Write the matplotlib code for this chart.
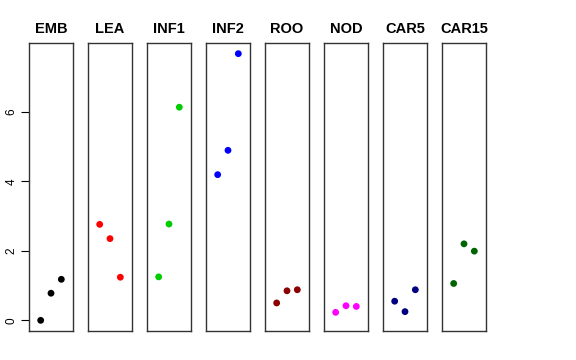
import matplotlib
matplotlib.use("Agg")
import matplotlib.pyplot as plt

tissues = ["EMB", "LEA", "INF1", "INF2", "ROO", "NOD", "CAR5", "CAR15"]
colors = ["#000000", "#FF0000", "#00CD00", "#0000FF", "#8B0000", "#FF00FF", "#000080", "#006400"]
x_pos = [1, 2, 3]
values = {
    "EMB":   [0.00, 0.78, 1.18],
    "LEA":   [2.76, 2.35, 1.24],
    "INF1":  [1.25, 2.77, 6.13],
    "INF2":  [4.19, 4.89, 7.67],
    "ROO":   [0.50, 0.85, 0.88],
    "NOD":   [0.23, 0.42, 0.40],
    "CAR5":  [0.55, 0.25, 0.88],
    "CAR15": [1.06, 2.20, 1.99],
}
yticks = [0, 2, 4, 6]

plt.rcParams['font.family'] = ['Liberation Sans', 'DejaVu Sans']
W, H = 576, 360
fig = plt.figure(figsize=(W / 100, H / 100), dpi=100)

ymax = max(max(v) for v in values.values())
ymin = 0.0
pad = 0.04 * (ymax - ymin)

for i, (name, col) in enumerate(zip(tissues, colors)):
    left = 28.7 + 59 * i
    ax = fig.add_axes([left / W, 1 - 331 / H, 44.6 / W, 288 / H])
    ax.scatter(x_pos, values[name], s=24, color=col, edgecolors='none', zorder=3)
    ax.set_xlim(-0.16, 4.16)
    ax.set_ylim(ymin - pad, ymax + pad)
    ax.set_xticks([])
    ax.set_title(name, fontsize=10.5, fontweight='bold', pad=7)
    for sp in ax.spines.values():
        sp.set_color("#333333")
        sp.set_linewidth(1.0)
    if i == 0:
        ax.set_yticks(yticks)
        ax.set_yticklabels([str(t) for t in yticks], rotation=90, va='center', fontsize=8.5)
        ax.tick_params(axis='y', length=6, width=0.8, pad=2)
    else:
        ax.set_yticks([])

fig.savefig("out.png", dpi=100)
